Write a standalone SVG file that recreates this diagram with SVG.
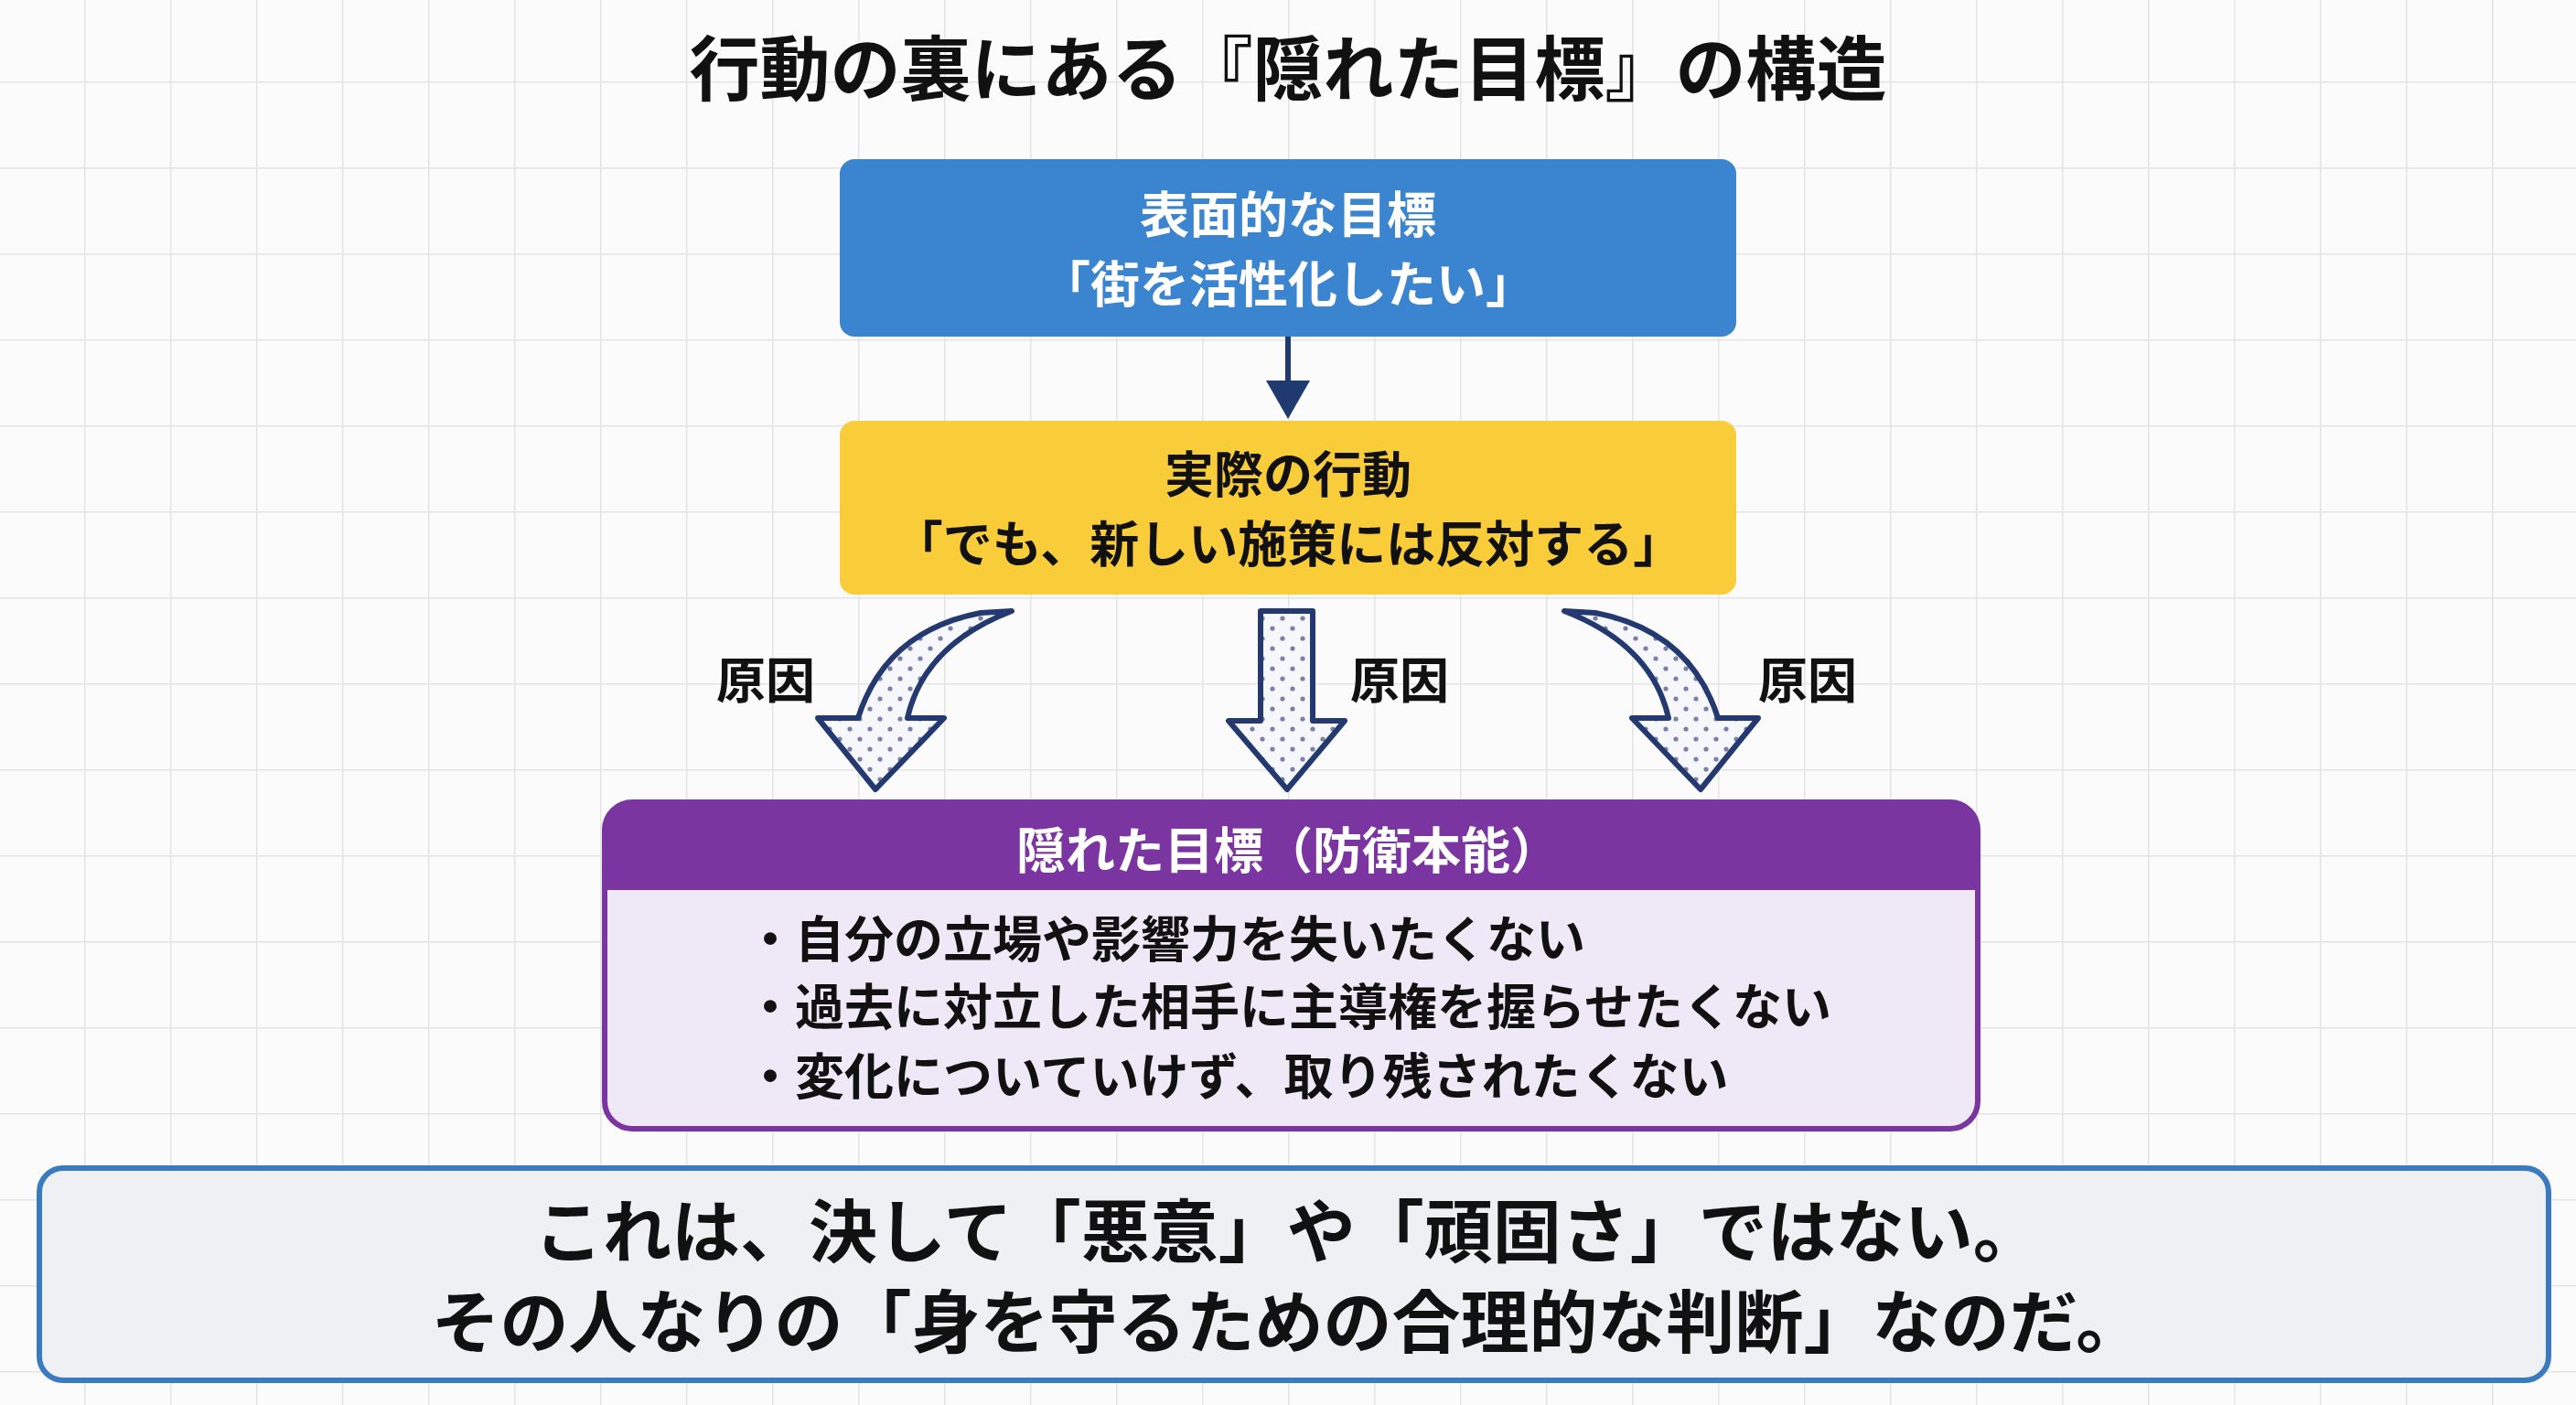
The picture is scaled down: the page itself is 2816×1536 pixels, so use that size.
<svg xmlns="http://www.w3.org/2000/svg" width="2816" height="1536" viewBox="0 0 2816 1536">
<defs>
<pattern id="grid" x="92" y="89" width="94" height="94" patternUnits="userSpaceOnUse"><path d="M0,0 H94 M0,0 V94" fill="none" stroke="#e4e4e4" stroke-width="3"/></pattern>
<pattern id="dots" width="22" height="22" patternUnits="userSpaceOnUse"><rect width="22" height="22" fill="#f6f7fb"/><circle cx="5" cy="5" r="2.6" fill="#7a80a8"/><circle cx="16" cy="16" r="2.6" fill="#7a80a8"/></pattern>
<marker id="ah" markerWidth="8" markerHeight="8" refX="6" refY="4" orient="auto" markerUnits="strokeWidth"><path d="M0,0 L7,4 L0,8 Z" fill="#1f3a6e"/></marker>
<style>
text{font-family:"Noto Sans CJK JP","Noto Sans",sans-serif;font-weight:700;text-anchor:middle;dominant-baseline:central}
.w{fill:#fff;font-size:54px}
.k{fill:#111;font-size:54px}
.big{fill:#111;font-size:75px}
.arr{fill:url(#dots);stroke:#23396f;stroke-width:6;stroke-linejoin:round}
</style>
</defs>
<rect width="2816" height="1536" fill="#fbfbfb"/>
<rect width="2816" height="1536" fill="url(#grid)"/>
<text x="1408" y="70" class="big" style="font-size:77px">行動の裏にある『隠れた目標』の構造</text>
<g id="connectors">
<line x1="1408" y1="368" x2="1408" y2="452" stroke="#1f3a6e" stroke-width="6" marker-end="url(#ah)"/>
<path class="arr" d="M1072,670 Q968,690 938,785 L894,785 L957,863 L1032,785 L992,785 Q1010,705 1106,668 Z"/>
<path class="arr" d="M1378,668 L1435,668 L1435,788 L1470,788 L1407,863 L1343,788 L1378,788 Z"/>
<path class="arr" transform="translate(2816,0) scale(-1,1)" d="M1072,670 Q968,690 938,785 L894,785 L957,863 L1032,785 L992,785 Q1010,705 1106,668 Z"/>
<text x="837" y="740" class="k">原因</text>
<text x="1530" y="740" class="k">原因</text>
<text x="1976" y="740" class="k">原因</text>
</g>
<g id="surface">
<rect x="918" y="174" width="980" height="194" rx="16" fill="#3a84d0"/>
<text x="1408" y="231" class="w">表面的な目標</text>
<text x="1408" y="307" class="w">「街を活性化したい」</text>
</g>
<g id="action">
<rect x="918" y="460" width="980" height="190" rx="16" fill="#f9cd3a"/>
<text x="1408" y="515" class="k">実際の行動</text>
<text x="1408" y="591" class="k">「でも、新しい施策には反対する」</text>
</g>
<g id="hidden">
<rect x="661" y="877" width="1501" height="357" rx="30" fill="#efe8f6" stroke="#7a35a0" stroke-width="6"/>
<path d="M661,973 V907 Q661,877 691,877 H2132 Q2162,877 2162,907 V973 Z" fill="#7a35a0"/>
<text x="1408" y="926" class="w">隠れた目標（防衛本能）</text>
<text x="815" y="1023" class="k" style="text-anchor:start">・自分の立場や影響力を失いたくない</text>
<text x="815" y="1097" class="k" style="text-anchor:start">・過去に対立した相手に主導権を握らせたくない</text>
<text x="815" y="1173" class="k" style="text-anchor:start">・変化についていけず、取り残されたくない</text>
</g>
<g id="message">
<rect x="43" y="1277" width="2743" height="232" rx="26" fill="#eef0f3" stroke="#3a7bc0" stroke-width="6"/>
<text x="1408" y="1341" class="big">これは、決して「悪意」や「頑固さ」ではない。</text>
<text x="1408" y="1440" class="big">その人なりの「身を守るための合理的な判断」なのだ。</text>
</g>
</svg>
